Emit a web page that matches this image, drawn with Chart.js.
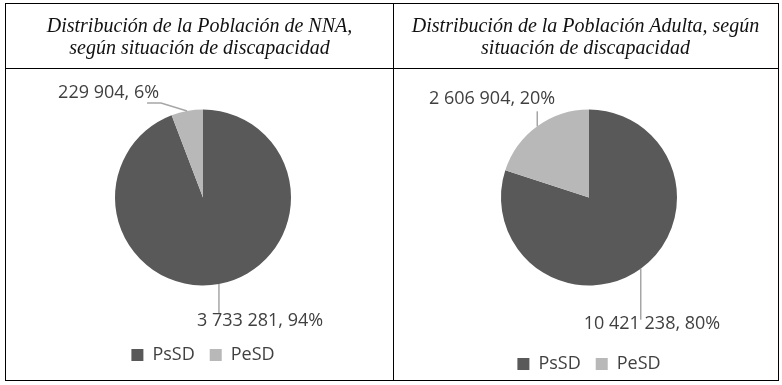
<!DOCTYPE html>
<html>
<head>
<meta charset="utf-8">
<script src="https://cdn.jsdelivr.net/npm/chart.js@4.4.1/dist/chart.umd.min.js"></script>
<style>
  body{margin:0;background:#fff;width:782px;height:385px;overflow:hidden;position:relative;}
  .frame{position:absolute;left:5px;top:3px;width:772px;height:376px;border:1px solid #000;}
  .vline{position:absolute;left:393px;top:3px;width:1px;height:377px;background:#000;}
  .hline{position:absolute;left:5px;top:68px;width:773px;height:1px;background:#000;}
  .title{position:absolute;top:4px;height:64px;display:flex;align-items:center;justify-content:center;
    text-align:center;font-family:"Liberation Serif",serif;font-style:italic;font-size:20px;line-height:22px;color:#111;z-index:2;}
  canvas{position:absolute;top:0;}
</style>
</head>
<body>
<div class="frame"></div>
<div class="vline"></div>
<div class="hline"></div>
<div class="title" style="left:6px;width:387px;">Distribución de la Población de NNA,<br>según situación de discapacidad</div>
<div class="title" style="left:394px;width:383px;">Distribución de la Población Adulta, según<br>situación de discapacidad</div>
<canvas id="chartNNA" width="406" height="385" style="left:0px;"></canvas>
<canvas id="chartAdult" width="386" height="385" style="left:396px;"></canvas>
<script>
//---------- data ----------
const categories=["PsSD","PeSD"];
const nnaValues=[3733281,229904];
const adultValues=[10421238,2606904];
const sliceColors=["#595959","#b8b8b8"];

//---------- helpers ----------
const fmtNumber=(v)=>String(v).replace(/\B(?=(\d{3})+(?!\d))/g," ");

// draws the value labels with their leader lines, anchored on each slice
const leaderPlugin={
  id:"leaders",
  afterDatasetsDraw(chart,args,opts){
    const ctx=chart.ctx;
    const values=chart.data.datasets[0].data;
    const total=values.reduce((a,b)=>a+b,0);
    chart.getDatasetMeta(0).data.forEach((arc,i)=>{
      const p=arc.getProps(["x","y","startAngle","endAngle","outerRadius"],true);
      const mid=(p.startAngle+p.endAngle)/2;
      const ax=p.x+Math.cos(mid)*p.outerRadius;
      const ay=p.y+Math.sin(mid)*p.outerRadius;
      const spec=opts.labels[i];
      ctx.save();
      ctx.strokeStyle="#a6a6a6";
      ctx.lineWidth=1.5;
      ctx.beginPath();
      ctx.moveTo(ax,ay);
      spec.path.forEach(pt=>ctx.lineTo(ax+pt[0],ay+pt[1]));
      ctx.stroke();
      ctx.font='18px "Open Sans"';
      ctx.fillStyle="#404040";
      ctx.textAlign=spec.align;
      ctx.textBaseline="middle";
      const pct=Math.round(values[i]/total*100);
      ctx.fillText(fmtNumber(values[i])+", "+pct+"%",ax+spec.text[0],ay+spec.text[1]);
      ctx.restore();
    });
  }
};

function makePie(id,values,padding,labels){
  return new Chart(document.getElementById(id),{
    type:"pie",
    data:{
      labels:categories,
      datasets:[{data:values,backgroundColor:sliceColors,borderWidth:0,radius:88}]
    },
    options:{
      responsive:false,
      animation:false,
      layout:{padding:padding},
      plugins:{
        tooltip:{enabled:false},
        legend:{
          position:"bottom",
          labels:{boxWidth:12,boxHeight:12,padding:15,color:"#404040",font:{family:"Open Sans",size:18}}
        },
        leaders:{labels:labels}
      }
    },
    plugins:[leaderPlugin]
  });
}

makePie("chartNNA",nnaValues,{top:64,bottom:11,left:0,right:0},[
  {path:[[0,29]],text:[-22,36.5],align:"left"},
  {path:[[-26,-8],[-40,-8]],text:[-28,-18.5],align:"right"}
]);

makePie("chartAdult",adultValues,{top:55,bottom:2,left:0,right:0},[
  {path:[[0,51]],text:[-57,55],align:"left"},
  {path:[[0,-15]],text:[18,-27],align:"right"}
]);
</script>
</body>
</html>
